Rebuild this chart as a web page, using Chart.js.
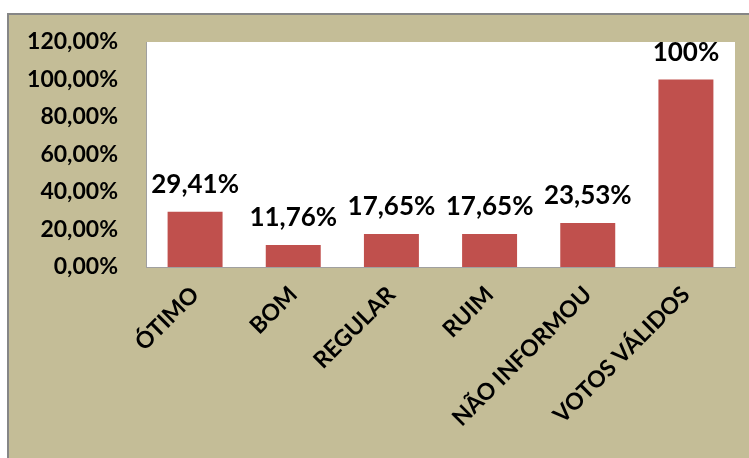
<!DOCTYPE html>
<html>
<head>
<meta charset="utf-8">
<script src="https://cdn.jsdelivr.net/npm/chart.js@4"></script>
<style>
  body { margin: 0; background: #fff; }
  canvas { display: block; }
</style>
</head>
<body>
<canvas id="chart" width="749" height="458"></canvas>
<script>
// data
const categories = ['ÓTIMO', 'BOM', 'REGULAR', 'RUIM', 'NÃO INFORMOU', 'VOTOS VÁLIDOS'];
const values = [29.41, 11.76, 17.65, 17.65, 23.53, 100];
const valueLabels = ['29,41%', '11,76%', '17,65%', '17,65%', '23,53%', '100%'];

const FONT = "'Lato', sans-serif";

// tan frame behind the chart
const framePlugin = {
    id: 'frame',
    beforeDraw(chart) {
        const ctx = chart.ctx;
        const a = chart.chartArea;
        ctx.save();
        ctx.fillStyle = '#ffffff';
        ctx.fillRect(0, 0, chart.width, chart.height);
        ctx.fillStyle = '#C4BD97';
        ctx.fillRect(7, 13, chart.width, chart.height);
        ctx.strokeStyle = '#868686';
        ctx.lineWidth = 2;
        ctx.beginPath();
        ctx.moveTo(8, chart.height);
        ctx.lineTo(8, 14);
        ctx.lineTo(chart.width, 14);
        ctx.stroke();
        ctx.fillStyle = '#ffffff';
        ctx.fillRect(a.left, a.top, a.right - a.left, a.bottom - a.top);
        ctx.restore();
    }
};

// value labels above bars
const valueLabelPlugin = {
    id: 'valueLabels',
    afterDatasetsDraw(chart) {
        const ctx = chart.ctx;
        const meta = chart.getDatasetMeta(0);
        ctx.save();
        ctx.font = 'bold 26px ' + FONT;
        ctx.fillStyle = '#000';
        ctx.textAlign = 'center';
        ctx.textBaseline = 'middle';
        meta.data.forEach((bar, i) => {
            ctx.fillText(valueLabels[i], bar.x, bar.y - 27);
        });
        ctx.restore();
    }
};

var ctx = document.getElementById('chart').getContext('2d');
var myChart = new Chart(ctx, {
    type: 'bar',
    data: {
        labels: categories,
        datasets: [{
            data: values,
            backgroundColor: '#C0504D',
            borderWidth: 0,
            categoryPercentage: 1,
            barPercentage: 0.56
        }]
    },
    options: {
        responsive: false,
        animation: false,
        layout: { padding: { left: 20, top: 42, right: 14, bottom: 0 } },
        plugins: {
            legend: { display: false },
            tooltip: { enabled: false }
        },
        scales: {
            x: {
                grid: { display: false, drawTicks: false },
                border: { color: '#A0A0A0', width: 1 },
                ticks: {
                    color: '#000',
                    font: { family: FONT, size: 23, weight: 'bold' },
                    minRotation: 45,
                    maxRotation: 45,
                    padding: 14
                },
                afterFit(scale) { scale.height = 191; }
            },
            y: {
                min: 0,
                max: 120,
                grid: { display: false, drawTicks: false },
                border: { color: '#A0A0A0', width: 1 },
                ticks: {
                    stepSize: 20,
                    color: '#000',
                    padding: 28,
                    font: { family: FONT, size: 23, weight: 'bold' },
                    callback: v => v.toFixed(2).replace('.', ',') + '%'
                },
                afterFit(scale) { scale.width = 126; }
            }
        }
    },
    plugins: [framePlugin, valueLabelPlugin]
});
</script>
</body>
</html>
